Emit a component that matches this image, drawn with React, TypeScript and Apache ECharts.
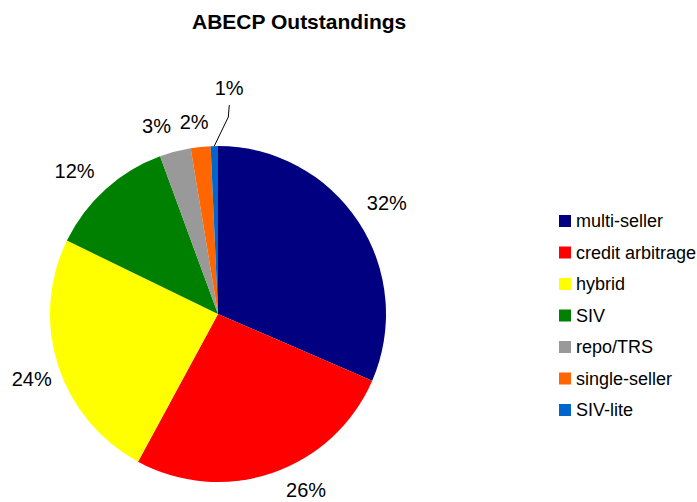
import React, { useEffect, useRef } from "react";
import * as echarts from "echarts";

const categories = [
  "multi-seller",
  "credit arbitrage",
  "hybrid",
  "SIV",
  "repo/TRS",
  "single-seller",
  "SIV-lite",
];
const values = [31.5, 26.4, 24.3, 12.2, 3.0, 1.9, 0.7];
const colors = ["#000080", "#FF0000", "#FFFF00", "#008000", "#999999", "#FF6600", "#0066CC"];
const titleText = "ABECP Outstandings";

const FONT = "'Liberation Sans', Arial, sans-serif";

export default function App() {
  const ref = useRef<HTMLDivElement>(null);
  useEffect(() => {
    if (!ref.current) return;
    const chart = echarts.init(ref.current, undefined, { renderer: "svg" });
    const labelOffsets: Record<number, number[]> = {
      1: [22, -15],
      2: [6, 3],
      3: [-8, 7],
      4: [-10, 7],
      5: [-3, 9],
    };
    const pct = (p: any) => Math.round(p.percent) + "%";
    chart.setOption({
      animation: false,
      color: colors,
      title: {
        text: titleText,
        left: 187,
        top: 6,
        textStyle: { fontFamily: FONT, fontSize: 21, fontWeight: "bold", color: "#000" },
      },
      legend: {
        orient: "vertical",
        left: 554,
        top: 207,
        itemWidth: 12,
        itemHeight: 12,
        itemGap: 13.5,
        icon: "rect",
        data: categories,
        textStyle: { fontFamily: FONT, fontSize: 18, color: "#000" },
      },
      series: [
        {
          type: "pie",
          name: "main",
          center: [218, 314],
          radius: 168,
          startAngle: 90,
          clockwise: true,
          silent: true,
          itemStyle: { borderWidth: 0 },
          label: {
            show: false,
            position: "outside",
            formatter: pct,
            fontFamily: FONT,
            fontSize: 20,
            color: "#000",
          },
          labelLine: { show: false, length: 30, length2: 0, lineStyle: { color: "#000", width: 1 } },
          labelLayout: (params: any) => {
            if (params.dataIndex !== 6) return {};
            const pts = params.labelLinePoints;
            const p0 = pts && pts[0] ? pts[0] : null;
            const out: any = { dx: 35, dy: -28 };
            if (p0) {
              out.labelLinePoints = [
                [p0[0], p0[1]],
                [p0[0] + 14, p0[1] - 29],
                [p0[0] + 15, p0[1] - 41],
              ];
            }
            return out;
          },
          data: categories.map((name, i) => ({
            name,
            value: values[i],
            ...(i === 6
              ? { label: { show: true }, labelLine: { show: true } }
              : {}),
          })),
        },
        {
          type: "pie",
          name: "labels",
          center: [218, 314],
          radius: [168, 230],
          startAngle: 90,
          clockwise: true,
          silent: true,
          itemStyle: { color: "rgba(0,0,0,0)", borderWidth: 0 },
          label: {
            show: true,
            position: "inside",
            formatter: pct,
            fontFamily: FONT,
            fontSize: 20,
            color: "#000",
          },
          labelLine: { show: false },
          data: categories.map((name, i) => ({
            name,
            value: values[i],
            label: i === 6 ? { show: false } : { offset: labelOffsets[i] || [0, 0] },
          })),
        },
      ],
    });
    return () => chart.dispose();
  }, []);
  return (
    <div
      ref={ref}
      style={{ position: "fixed", left: 0, top: 0, width: 697, height: 502, background: "#fff" }}
    />
  );
}
